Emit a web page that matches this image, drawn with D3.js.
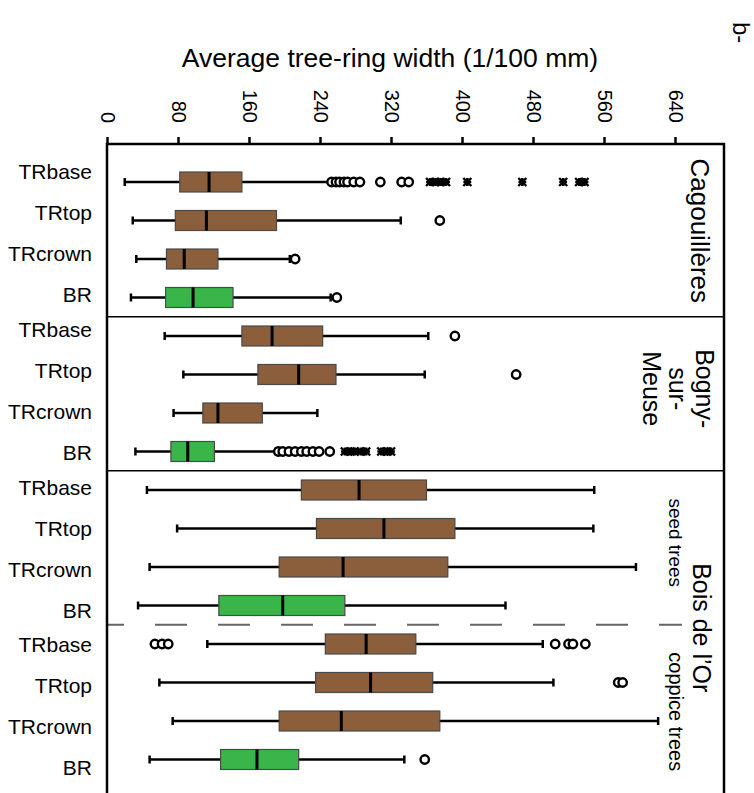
<!DOCTYPE html>
<html>
<head>
<meta charset="utf-8">
<script src="https://cdn.jsdelivr.net/npm/d3@7"></script>
<style>
  body { margin: 0; background: #fff; }
  text { font-family: "Liberation Sans", Arial, sans-serif; fill: #000; }
</style>
</head>
<body>
<div id="chart"></div>
<script>
// data (1/100 mm)
const rowLabels = ["TRbase", "TRtop", "TRcrown", "BR"];
const sites = ["Cagouillères", "Bogny-sur-Meuse", "Bois de l'Or seed trees", "Bois de l'Or coppice trees"];
const xTicks = [0, 80, 160, 240, 320, 400, 480, 560, 640];

// one entry per row: 4 sites x 4 ring types
const whiskerLow = [20, 29, 33, 27, 65, 86, 75, 32, 45, 79, 48, 35, 113, 59, 74, 48];
const q1 = [82, 77, 67, 66, 152, 170, 108, 72, 219, 236, 194, 126, 246, 235, 194, 128];
const median = [115, 112, 87, 97, 186, 216, 125, 91, 284, 312, 266, 198, 292, 297, 264, 169];
const q3 = [152, 191, 125, 142, 243, 258, 175, 121, 360, 392, 384, 268, 348, 367, 375, 216];
const whiskerHigh = [251, 331, 206, 252, 362, 358, 237, 190, 549, 548, 596, 449, 491, 503, 621, 335];

// outliers (circles) and extreme values (stars)
const outliers = [
  [253, 258, 262, 267, 271, 278, 285, 308, 332, 340],
  [375], [212], [259],
  [392], [461], [],
  [193, 198, 205, 212, 219, 225, 232, 239, 251],
  [], [], [], [],
  [54, 62, 69, 505, 520, 525, 539],
  [576, 581], [], [358]
];
const extremes = [
  [364, 370, 376, 382, 406, 468, 514, 532, 538],
  [], [], [],
  [], [], [], [268, 274, 279, 286, 292, 309, 315, 320],
  [], [], [], [],
  [], [], [], []
];

const rows = d3.range(16);
const colors = { TR: "#8b5e3c", BR: "#39b54a" };

const width = 754, height = 793;
const frame = { left: 107, right: 724, top: 144, bottom: 798 };

const svg = d3.select("#chart").append("svg")
  .attr("width", width)
  .attr("height", height);

const x = d3.scaleLinear().domain([0, 640]).range([107, 675]);
const y = d3.scaleBand().domain(rows).range([162.75, 778.75]);
const yc = i => y(i) + y.bandwidth() / 2;
const boxH = 20;

// title
svg.append("text")
  .attr("x", 390).attr("y", 67)
  .attr("text-anchor", "middle")
  .style("font-size", "26.5px")
  .text("Average tree-ring width (1/100 mm)");

svg.append("text")
  .attr("transform", "translate(741,22) rotate(90)")
  .attr("dy", "0.35em")
  .style("font-size", "24px")
  .text("b-");

// top axis with rotated labels
const axis = svg.append("g")
  .attr("transform", `translate(0,${frame.top})`)
  .call(d3.axisTop(x).tickValues(xTicks).tickSize(7).tickSizeOuter(0).tickFormat(d3.format("d")));
axis.select(".domain").remove();
axis.selectAll(".tick line").attr("stroke", "#000").attr("stroke-width", 2.5);
axis.selectAll(".tick text")
  .attr("y", 0).attr("dy", "0.35em")
  .attr("transform", "translate(0,-21) rotate(90)")
  .attr("text-anchor", "end")
  .style("font-size", "20px")
  .style("font-family", "Liberation Sans, Arial, sans-serif");

// separators between sites
[4, 8].forEach(i => {
  svg.append("line")
    .attr("x1", frame.left).attr("x2", frame.right)
    .attr("y1", y(i)).attr("y2", y(i))
    .attr("stroke", "#000").attr("stroke-width", 1.5);
});
svg.append("line")
  .attr("x1", frame.left).attr("x2", 682)
  .attr("y1", y(12)).attr("y2", y(12))
  .attr("stroke", "#666").attr("stroke-width", 2)
  .attr("stroke-dasharray", "32,31")
  .attr("stroke-dashoffset", 15);

// boxplots
const g = svg.selectAll(".row")
  .data(rows)
  .join("g")
  .attr("class", "row")
  .attr("transform", i => `translate(0,${yc(i)})`);

g.append("line")
  .attr("x1", i => x(whiskerLow[i])).attr("x2", i => x(whiskerHigh[i]))
  .attr("stroke", "#000").attr("stroke-width", 2.5);
g.append("line")
  .attr("x1", i => x(whiskerLow[i])).attr("x2", i => x(whiskerLow[i]))
  .attr("y1", -4).attr("y2", 4)
  .attr("stroke", "#000").attr("stroke-width", 2.5);
g.append("line")
  .attr("x1", i => x(whiskerHigh[i])).attr("x2", i => x(whiskerHigh[i]))
  .attr("y1", -4).attr("y2", 4)
  .attr("stroke", "#000").attr("stroke-width", 2.5);

g.append("rect")
  .attr("x", i => x(q1[i]))
  .attr("width", i => x(q3[i]) - x(q1[i]))
  .attr("y", -boxH / 2).attr("height", boxH)
  .attr("fill", i => rowLabels[i % 4] === "BR" ? colors.BR : colors.TR)
  .attr("stroke", "#4a4a4a").attr("stroke-width", 1.2);

g.append("line")
  .attr("x1", i => x(median[i])).attr("x2", i => x(median[i]))
  .attr("y1", -boxH / 2).attr("y2", boxH / 2)
  .attr("stroke", "#000").attr("stroke-width", 3);

g.selectAll("circle")
  .data(i => outliers[i])
  .join("circle")
  .attr("cx", d => x(d)).attr("cy", 0).attr("r", 4.2)
  .attr("fill", "#fff").attr("stroke", "#000").attr("stroke-width", 2.4);

const star = d3.symbol().type(d3.symbolTimes).size(44);
g.selectAll(".ext")
  .data(i => extremes[i])
  .join("g")
  .attr("class", "ext")
  .attr("transform", d => `translate(${x(d)},0)`)
  .call(s => {
    s.append("path").attr("d", star).attr("stroke", "#000").attr("stroke-width", 2.4).attr("fill", "none");
    s.append("path").attr("d", d3.symbol().type(d3.symbolCross).size(34)).attr("fill", "#000");
  });

// row labels: evenly spaced within each site block
const labelStep = 41, siteStep = 157.6;
svg.selectAll(".rowlab")
  .data(rows)
  .join("text")
  .attr("class", "rowlab")
  .attr("x", 92)
  .attr("y", i => 172 + labelStep * (i % 4) + siteStep * Math.floor(i / 4))
  .attr("dy", "0.35em")
  .attr("text-anchor", "end")
  .style("font-size", "21px")
  .text(i => rowLabels[i % 4]);

// site labels, rotated
function vlabel(lines, cx, cy, size) {
  const t = svg.append("text")
    .attr("transform", `translate(${cx},${cy}) rotate(90)`)
    .attr("text-anchor", "middle")
    .style("font-size", size + "px");
  const n = lines.length;
  lines.forEach((l, k) => {
    t.append("tspan")
      .attr("x", 0)
      .attr("y", (k - (n - 1) / 2) * size * 1.05)
      .attr("dy", "0.35em")
      .text(l);
  });
}
const siteCenter = grp => (y(grp * 4) + y(grp * 4 + 3) + y.bandwidth()) / 2;
vlabel(["Cagouillères"], 700, siteCenter(0) - 9, 26);
vlabel(["Bogny-", "sur-", "Meuse"], 678, siteCenter(1) - 5, 25);
vlabel(["Bois de l’Or"], 702, y(12) + 3, 25);
vlabel(["seed trees"], 676, siteCenter(2) - 5, 19);
vlabel(["coppice trees"], 676, siteCenter(3) + 10, 20);

// frame
svg.append("rect")
  .attr("x", frame.left).attr("y", frame.top)
  .attr("width", frame.right - frame.left)
  .attr("height", frame.bottom - frame.top)
  .attr("fill", "none")
  .attr("stroke", "#000").attr("stroke-width", 2.5);
</script>
</body>
</html>
